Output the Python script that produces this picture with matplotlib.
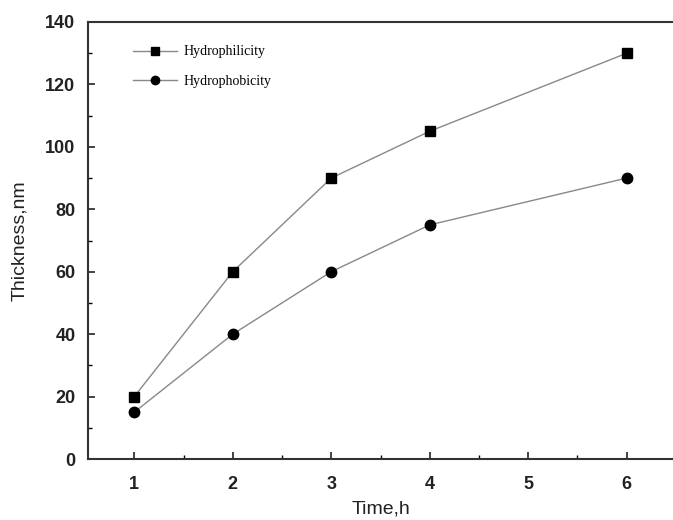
import matplotlib
matplotlib.use("Agg")
import matplotlib.pyplot as plt
from matplotlib.ticker import MultipleLocator

# data
time_h = [1, 2, 3, 4, 6]
hydrophilicity = [20, 60, 90, 105, 130]
hydrophobicity = [15, 40, 60, 75, 90]

plt.rcParams['font.family'] = ['Liberation Sans', 'DejaVu Sans']

fig = plt.figure(figsize=(6.73, 5.2), dpi=100)
ax = fig.add_axes([88 / 673, 61 / 520, 585 / 673, 437 / 520])

ax.plot(time_h, hydrophilicity, color='#888888', linewidth=1.0,
        marker='s', markersize=7, markerfacecolor='black', markeredgecolor='black',
        label='Hydrophilicity')
ax.plot(time_h, hydrophobicity, color='#888888', linewidth=1.0,
        marker='o', markersize=7.5, markerfacecolor='black', markeredgecolor='black',
        label='Hydrophobicity')

ax.set_xlim(0.53, 6.47)
ax.set_ylim(0, 140)
ax.xaxis.set_major_locator(MultipleLocator(1))
ax.xaxis.set_minor_locator(MultipleLocator(0.5))
ax.yaxis.set_major_locator(MultipleLocator(20))
ax.yaxis.set_minor_locator(MultipleLocator(10))
ax.tick_params(which='major', direction='in', length=5, width=1.2, labelsize=13,
               colors='#222222')
ax.tick_params(axis='x', which='major', pad=12)
ax.tick_params(axis='y', which='major', pad=9)
ax.tick_params(which='minor', direction='in', length=3, width=1.0)
ax.tick_params(top=False, right=False)
for lbl in ax.get_xticklabels() + ax.get_yticklabels():
    lbl.set_fontweight('bold')

for s in ['left', 'bottom', 'top']:
    ax.spines[s].set_linewidth(1.5)
    ax.spines[s].set_color('#333333')
ax.spines['right'].set_visible(False)

ax.set_xlabel('Time,h', fontsize=14, color='#222222', labelpad=6)
ax.set_ylabel('Thickness,nm', fontsize=14, color='#222222', labelpad=12)

ax.legend(loc='upper left', bbox_to_anchor=(0.055, 0.975), frameon=False,
          prop={'family': 'Liberation Serif', 'size': 10}, handlelength=3.2,
          labelspacing=1.2, handletextpad=0.45, markerscale=0.8)

fig.savefig('out.png', dpi=100)
